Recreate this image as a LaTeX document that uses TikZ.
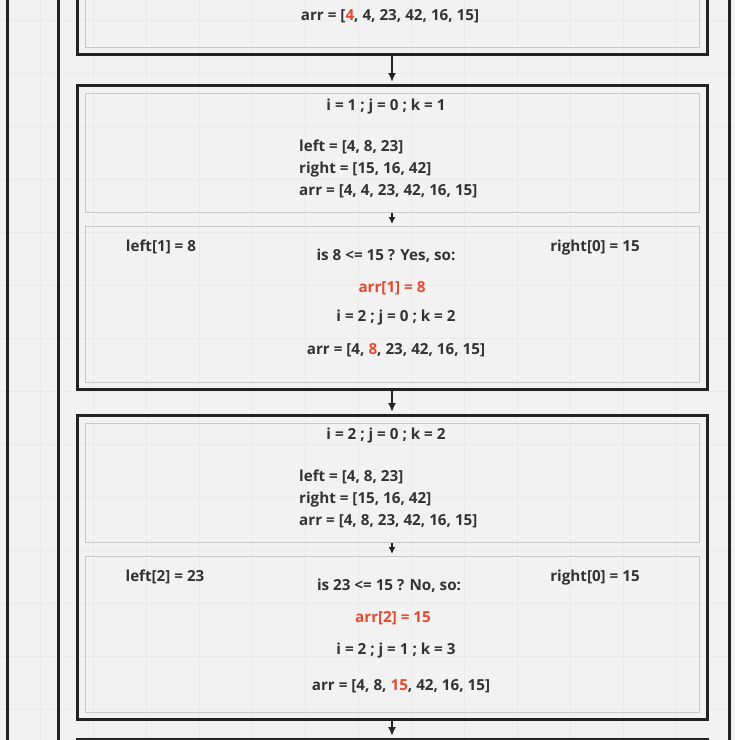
\documentclass[tikz,border=0pt]{standalone}
\usepackage{fontspec}
\setmainfont{Open Sans}
\usetikzlibrary{arrows.meta}
\definecolor{bg}{HTML}{F2F2F2}
\definecolor{gridc}{HTML}{EAEAEA}
\definecolor{ink}{HTML}{333333}
\definecolor{hl}{HTML}{E8492F}
\definecolor{frame}{HTML}{222222}
\definecolor{thin}{HTML}{C8C8C8}
\tikzset{
  block/.style={draw=frame, line width=3pt, minimum width=630pt, inner sep=0pt},
  part/.style={draw=thin, line width=1pt, minimum width=614pt, inner sep=0pt},
  txt/.style={text=ink, font=\bfseries\fontsize{15.2}{18}\selectfont, inner sep=0pt, anchor=mid, yshift=-3.5pt},
  ltxt/.style={txt, anchor=mid west},
  link/.style={draw=frame, line width=1.7pt, -{Latex[length=9pt,width=8pt]}},
  sublink/.style={draw=frame, line width=1.5pt, -{Latex[length=7pt,width=7pt]}},
}
\begin{document}
\begin{tikzpicture}[x=1pt,y=-1pt]
  \useasboundingbox (0,0) rectangle (735,740);
  \clip (0,0) rectangle (735,740);
  \fill[bg] (0,0) rectangle (735,740);
  \foreach \gx in {40,93,...,735} \draw[gridc] (\gx,0) -- (\gx,740);
  \foreach \gy in {20,73,...,740} \draw[gridc] (0,\gy) -- (735,\gy);
  % outer frames
  \draw[frame, line width=3pt] (7,0) -- (7,740);
  \draw[frame, line width=3pt] (58,0) -- (58,740);
  \draw[frame, line width=3pt] (729,0) -- (729,740);
  % blocks
  \node[block, minimum height=354pt] (b1) at (392,-123) {};
  \node[part, minimum height=339pt] (p1) at (392,-122.5) {};
  \node[block, minimum height=304pt] (b2) at (392,237) {};
  \node[part, minimum height=119pt] (p2a) at (392,152.5) {};
  \node[part, minimum height=156pt] (p2b) at (392,304) {};
  \node[block, minimum height=304pt] (b3) at (392,567) {};
  \node[part, minimum height=119pt] (p3a) at (392,482.5) {};
  \node[part, minimum height=156pt] (p3b) at (392,634) {};
  \node[block, minimum height=322pt] (b4) at (392,900) {};
  % texts
  \node[txt] (a1) at (390,14) {arr = [\textcolor{hl}{4}, 4, 23, 42, 16, 15]};

  \node[txt] (s2) at (386,104) {i = 1 ; j = 0 ; k = 1};
  \node[ltxt] (l2) at (299,145) {left = [4, 8, 23]};
  \node[ltxt] (r2) at (299,167) {right = [15, 16, 42]};
  \node[ltxt] (a2) at (299,189) {arr = [4, 4, 23, 42, 16, 15]};
  \node[txt] (lv2) at (161,245) {left[1] = 8};
  \node[txt] (rv2) at (595,245) {right[0] = 15};
  \node[txt] (q2) at (386,254) {is 8 <= 15 ? Yes, so:};
  \node[txt, text=hl] (w2) at (392,286) {arr[1] = 8};
  \node[txt] (n2) at (396,315) {i = 2 ; j = 0 ; k = 2};
  \node[txt] (o2) at (396,348) {arr = [4, \textcolor{hl}{8}, 23, 42, 16, 15]};

  \node[txt] (s3) at (386,433) {i = 2 ; j = 0 ; k = 2};
  \node[ltxt] (l3) at (299,475) {left = [4, 8, 23]};
  \node[ltxt] (r3) at (299,497) {right = [15, 16, 42]};
  \node[ltxt] (a3) at (299,519) {arr = [4, 8, 23, 42, 16, 15]};
  \node[txt] (lv3) at (165,575) {left[2] = 23};
  \node[txt] (rv3) at (595,575) {right[0] = 15};
  \node[txt] (q3) at (389,584) {is 23 <= 15 ? No, so:};
  \node[txt, text=hl] (w3) at (393,616) {arr[2] = 15};
  \node[txt] (n3) at (396,648) {i = 2 ; j = 1 ; k = 3};
  \node[txt] (o3) at (401,684) {arr = [4, 8, \textcolor{hl}{15}, 42, 16, 15]};
  % links
  \begin{scope}[shorten >=1.5pt]
    \draw[link] (b1.south) to (b2.north);
    \draw[link] (b2.south) to (b3.north);
    \draw[link] (b3.south) to (b4.north);
    \draw[sublink] (p2a.south) to (p2b.north);
    \draw[sublink] (p3a.south) to (p3b.north);
  \end{scope}
\end{tikzpicture}
\end{document}
